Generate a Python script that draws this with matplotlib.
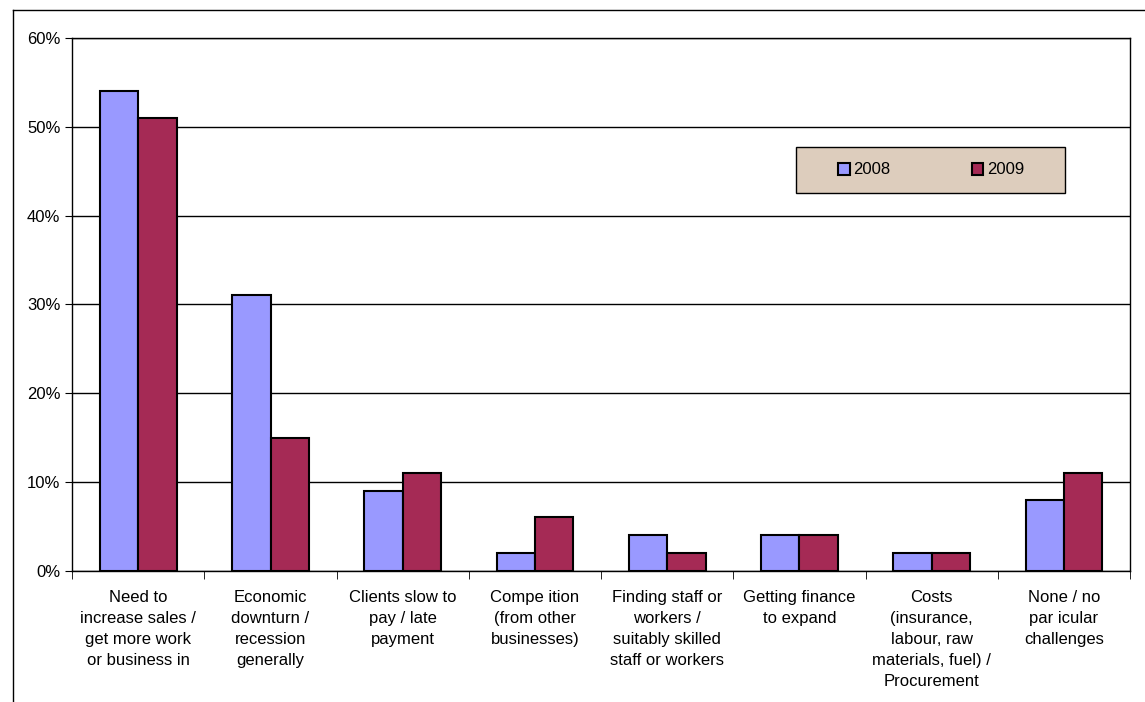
import numpy as np
import matplotlib.pyplot as plt
from matplotlib.patches import Rectangle
from matplotlib.ticker import FixedLocator

plt.rcParams['font.family'] = ['Liberation Sans', 'DejaVu Sans']

categories = [
    "Need to\nincrease sales /\nget more work\nor business in",
    "Economic\ndownturn /\nrecession\ngenerally",
    "Clients slow to\npay / late\npayment",
    "Compe ition\n(from other\nbusinesses)",
    "Finding staff or\nworkers /\nsuitably skilled\nstaff or workers",
    "Getting finance\nto expand",
    "Costs\n(insurance,\nlabour, raw\nmaterials, fuel) /\nProcurement",
    "None / no\npar icular\nchallenges",
]
values_2008 = [54, 31, 9, 2, 4, 4, 2, 8]
values_2009 = [51, 15, 11, 6, 2, 4, 2, 11]
y_ticks = [0, 10, 20, 30, 40, 50, 60]

fig = plt.figure(figsize=(11.45, 7.02), dpi=100)
ax = fig.add_axes([0.063, 0.187, 0.924, 0.759])

x = np.arange(len(categories))
w = 0.29
ax.bar(x - w / 2, values_2008, w, color="#9999ff", edgecolor="black", linewidth=1.5, label="2008", zorder=3)
ax.bar(x + w / 2, values_2009, w, color="#a52a55", edgecolor="black", linewidth=1.5, label="2009", zorder=3)

ax.set_xlim(-0.5, len(categories) - 0.5)
ax.set_ylim(0, 60)
ax.set_yticks(y_ticks)
ax.set_yticklabels([f"{t}%" for t in y_ticks], fontsize=12)
ax.yaxis.grid(True, color="black", linewidth=1, zorder=0)

ax.set_xticks(x)
ax.set_xticklabels(categories, fontsize=12, va="top", linespacing=1.5)
ax.tick_params(axis="x", length=0, pad=14)
ax.xaxis.set_minor_locator(FixedLocator(np.arange(-0.5, len(categories), 1)))
ax.tick_params(axis="x", which="minor", length=6, color="black")
ax.tick_params(axis="y", length=5, direction="out")

for s in ax.spines.values():
    s.set_color("black")
    s.set_linewidth(1)

# legend box drawn by hand, entries centred in it
fig.add_artist(Rectangle((796 / 1145, 1 - 193 / 702), 269 / 1145, 46 / 702,
                         transform=fig.transFigure, facecolor="#ddcdbd",
                         edgecolor="black", linewidth=1, zorder=4))
leg = fig.legend(loc="center", bbox_to_anchor=(931 / 1145, 1 - 170 / 702), ncol=2, fontsize=12,
                 frameon=False, handlelength=0.7, handleheight=0.7,
                 columnspacing=4.9, handletextpad=0.2, borderaxespad=0)
leg.set_zorder(5)

# outer frame (top and left)
fig.add_artist(plt.Line2D([0.011, 1.0], [0.986, 0.986], color="black", linewidth=1, transform=fig.transFigure))
fig.add_artist(plt.Line2D([0.011, 0.011], [0.0, 0.986], color="black", linewidth=1, transform=fig.transFigure))

fig.savefig("out.png", dpi=100)
